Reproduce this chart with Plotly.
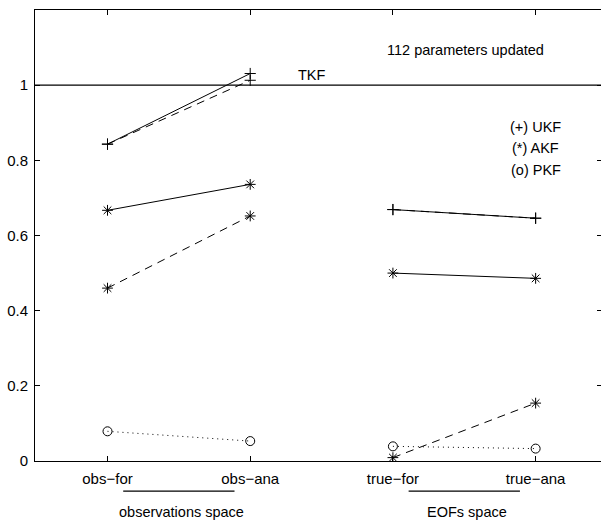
import plotly.graph_objects as go

# Categories along the x axis
categories = ["obs−for", "obs−ana", "true−for", "true−ana"]
x_pos = [1, 2, 3, 4]

# Two experiments per filter: solid and dashed lines
ukf_solid = [0.843, 1.031, 0.669, 0.646]
ukf_dashed = [0.843, 1.013, 0.669, 0.646]
akf_solid = [0.667, 0.736, 0.500, 0.486]
akf_dashed = [0.460, 0.652, 0.009, 0.154]
pkf_dotted = [0.079, 0.053, 0.039, 0.033]

tkf_level = 1.0

y_ticks = [0, 0.2, 0.4, 0.6, 0.8, 1.0]
y_tick_text = ["0", "0.2", "0.4", "0.6", "0.8", "1"]

# Groups of categories drawn under the axis
groups = [("observations space", 0, 1), ("EOFs space", 2, 3)]

FONT = "Liberation Sans, Arial, Helvetica, sans-serif"

fig = go.Figure()


def add_series(values, dash, symbol, size):
    # connect forecast and analysis within each space only
    for a, b in [(0, 1), (2, 3)]:
        fig.add_trace(go.Scatter(
            x=[x_pos[a], x_pos[b]], y=[values[a], values[b]],
            mode="lines+markers",
            line=dict(color="black", width=1, dash=dash),
            marker=dict(symbol=symbol, size=size, color="black",
                        line=dict(color="black", width=1)),
            showlegend=False, hoverinfo="skip",
        ))


add_series(ukf_dashed, "8px,6px", "cross-thin", 8)
add_series(ukf_solid, "solid", "cross-thin", 8)
add_series(akf_dashed, "8px,6px", "asterisk-open", 9)
add_series(akf_solid, "solid", "asterisk-open", 9)
add_series(pkf_dotted, "1px,4px", "circle-open", 9)

fig.add_hline(y=tkf_level, line=dict(color="black", width=1.2))

text_font = dict(family=FONT, size=14.5, color="black")
fig.add_annotation(x=2.43, y=1.027, text="TKF", showarrow=False, font=text_font)
fig.add_annotation(x=3.51, y=1.093, text="112 parameters updated",
                   showarrow=False, font=text_font)
for label, yv in [("(+) UKF", 0.888), ("(*) AKF", 0.833), ("(o) PKF", 0.773)]:
    fig.add_annotation(x=4.0, y=yv, text=label, showarrow=False, font=text_font)

for name, a, b in groups:
    fig.add_shape(type="line", xref="x", yref="paper",
                  x0=x_pos[a] + 0.11, x1=x_pos[b] - 0.11, y0=-0.067, y1=-0.067,
                  line=dict(color="black", width=1.2))
    fig.add_annotation(x=(x_pos[a] + x_pos[b]) / 2 + 0.02, xref="x",
                       y=-0.114, yref="paper", yanchor="middle",
                       text=name, showarrow=False, font=text_font)

fig.update_layout(
    width=602, height=523,
    margin=dict(l=35, r=1, t=10, b=62),
    plot_bgcolor="white", paper_bgcolor="white",
    font=dict(family=FONT, size=15, color="black"),
    xaxis=dict(range=[0.492, 4.458], tickvals=x_pos, ticktext=categories,
               ticks="inside", ticklen=5, tickcolor="black",
               ticklabelstandoff=4,
               showline=True, linecolor="black", linewidth=1,
               mirror="ticks", showgrid=False, zeroline=False),
    yaxis=dict(range=[0, 1.2], tickvals=y_ticks, ticktext=y_tick_text,
               ticks="inside", ticklen=5, tickcolor="black",
               ticklabelstandoff=3,
               showline=True, linecolor="black", linewidth=1,
               showgrid=False, zeroline=False),
    yaxis2=dict(range=[0, 1.2], overlaying="y", side="right",
                tickvals=y_ticks, showticklabels=False,
                ticks="inside", ticklen=4, tickcolor="black",
                showline=False, showgrid=False, zeroline=False),
)

# invisible trace to bring the right-hand tick axis into the layout
fig.add_trace(go.Scatter(x=[x_pos[0]], y=[0], yaxis="y2", mode="markers",
                         marker=dict(opacity=0), showlegend=False,
                         hoverinfo="skip"))

fig.write_html("out.html")
